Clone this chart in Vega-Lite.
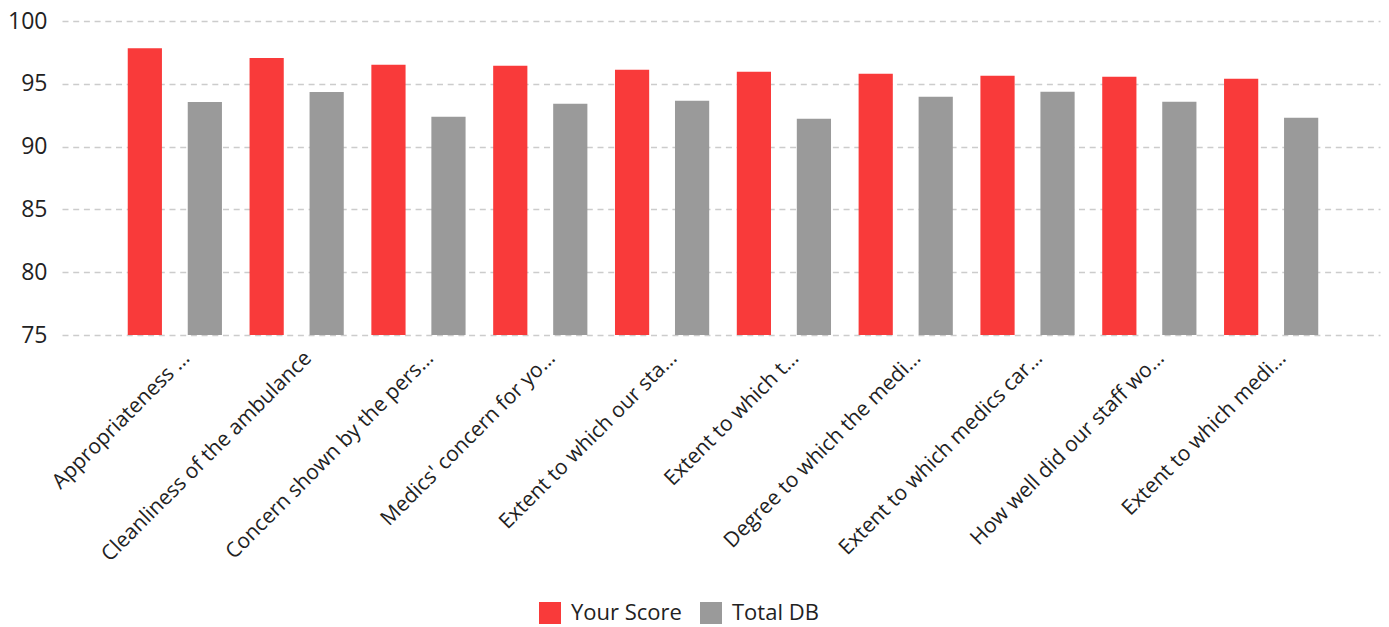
{
  "$schema": "https://vega.github.io/schema/vega-lite/v6.json",
  "autosize": "none",
  "width": 1318,
  "height": 314,
  "padding": {"left": 62, "top": 21, "right": 9, "bottom": 292},
  "background": "white",
  "config": {
    "view": {"stroke": null},
    "font": "Open Sans"
  },
  "data": {
    "values": [
      {"q": "Appropriateness …", "series": "Your Score", "value": 97.83},
      {"q": "Appropriateness …", "series": "Total DB", "value": 93.55},
      {"q": "Cleanliness of the ambulance", "series": "Your Score", "value": 97.05},
      {"q": "Cleanliness of the ambulance", "series": "Total DB", "value": 94.35},
      {"q": "Concern shown by the pers…", "series": "Your Score", "value": 96.51},
      {"q": "Concern shown by the pers…", "series": "Total DB", "value": 92.37},
      {"q": "Medics' concern for yo…", "series": "Your Score", "value": 96.43},
      {"q": "Medics' concern for yo…", "series": "Total DB", "value": 93.41},
      {"q": "Extent to which our sta…", "series": "Your Score", "value": 96.11},
      {"q": "Extent to which our sta…", "series": "Total DB", "value": 93.65},
      {"q": "Extent to which t…", "series": "Your Score", "value": 95.96},
      {"q": "Extent to which t…", "series": "Total DB", "value": 92.21},
      {"q": "Degree to which the medi…", "series": "Your Score", "value": 95.8},
      {"q": "Degree to which the medi…", "series": "Total DB", "value": 93.96},
      {"q": "Extent to which medics car…", "series": "Your Score", "value": 95.64},
      {"q": "Extent to which medics car…", "series": "Total DB", "value": 94.36},
      {"q": "How well did our staff wo…", "series": "Your Score", "value": 95.56},
      {"q": "How well did our staff wo…", "series": "Total DB", "value": 93.57},
      {"q": "Extent to which medi…", "series": "Your Score", "value": 95.4},
      {"q": "Extent to which medi…", "series": "Total DB", "value": 92.29}
    ]
  },
  "mark": {"type": "bar", "clip": true},
  "encoding": {
    "x": {
      "field": "q",
      "type": "nominal",
      "sort": null,
      "scale": {"paddingInner": 0, "paddingOuter": 0.41, "align": 0.52},
      "axis": {
        "title": null,
        "labelAngle": -45,
        "labelAlign": "right",
        "labelBaseline": "top",
        "labelFontSize": 21,
        "labelColor": "#222222",
        "labelLimit": 500,
        "labelPadding": 12,
        "labelOffset": 4,
        "domain": false,
        "ticks": false,
        "grid": false
      }
    },
    "xOffset": {
      "field": "series",
      "type": "nominal",
      "sort": ["Your Score", "Total DB"],
      "scale": {"paddingInner": 0.43, "paddingOuter": 0.23}
    },
    "y": {
      "field": "value",
      "type": "quantitative",
      "scale": {"domain": [75, 100], "nice": false, "zero": false},
      "axis": {
        "title": null,
        "values": [75, 80, 85, 90, 95, 100],
        "labelFontSize": 23,
        "labelColor": "#222222",
        "labelPadding": 15,
        "domain": false,
        "ticks": false,
        "grid": true,
        "gridColor": "#cccccc",
        "gridDash": [6, 4.7],
        "gridWidth": 1.5
      }
    },
    "color": {
      "field": "series",
      "type": "nominal",
      "sort": ["Your Score", "Total DB"],
      "scale": {"domain": ["Your Score", "Total DB"], "range": ["#F93A3A", "#9A9A9A"]},
      "legend": {
        "title": null,
        "orient": "none",
        "direction": "horizontal",
        "legendX": 477,
        "legendY": 581,
        "symbolType": "square",
        "symbolSize": 484,
        "symbolStrokeWidth": 0,
        "symbolOpacity": 1,
        "labelFontSize": 22,
        "labelColor": "#222222",
        "labelOffset": 10,
        "columnPadding": 18
      }
    }
  }
}
